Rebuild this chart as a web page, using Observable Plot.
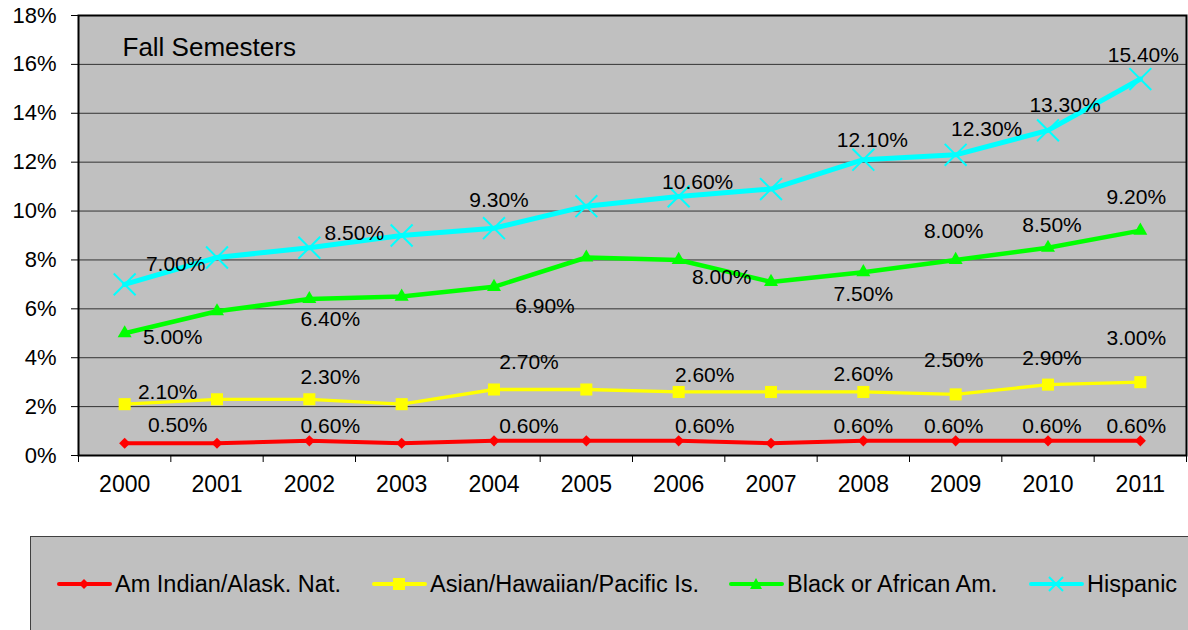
<!DOCTYPE html>
<html>
<head>
<meta charset="utf-8">
<script src="https://cdn.jsdelivr.net/npm/d3@7"></script>
<script src="https://cdn.jsdelivr.net/npm/@observablehq/plot@0.6"></script>
<style>
  html, body { margin: 0; padding: 0; background: #fff; }
  #wrap { position: relative; width: 1188px; height: 630px; overflow: hidden; font-family: "Liberation Sans", Arial, sans-serif; }
  #legend { position: absolute; left: 30px; top: 536px; width: 1200px; height: 110px; background: #c0c0c0; border: 1.5px solid #404040; box-sizing: border-box; }
  .item { position: absolute; top: 35px; height: 24px; display: flex; align-items: center; font-size: 23.5px; color: #000; white-space: nowrap; }
  .item svg { display: block; margin-right: 3px; }
</style>
</head>
<body>
<div id="wrap"><div id="chart"></div><div id="legend"></div></div>
<script>
// ---- data ----
const years = [2000, 2001, 2002, 2003, 2004, 2005, 2006, 2007, 2008, 2009, 2010, 2011];
const amIndian = [0.5, 0.5, 0.6, 0.5, 0.6, 0.6, 0.6, 0.5, 0.6, 0.6, 0.6, 0.6];
const asian    = [2.1, 2.3, 2.3, 2.1, 2.7, 2.7, 2.6, 2.6, 2.6, 2.5, 2.9, 3.0];
const black    = [5.0, 5.9, 6.4, 6.5, 6.9, 8.1, 8.0, 7.1, 7.5, 8.0, 8.5, 9.2];
const hispanic = [7.0, 8.1, 8.5, 9.0, 9.3, 10.2, 10.6, 10.9, 12.1, 12.3, 13.3, 15.4];
const seriesNames = ["Am Indian/Alask. Nat.", "Asian/Hawaiian/Pacific Is.", "Black or African Am.", "Hispanic"];
const labelYears = [2000, 2002, 2004, 2006, 2008, 2009, 2010, 2011];
const yTicks = [0, 2, 4, 6, 8, 10, 12, 14, 16, 18];
const title = "Fall Semesters";

// ---- styles / layout (not data) ----
const styles = [
  {color: "#ff0000", symbol: "diamond2", r: 5, width: 4, fill: true},
  {color: "#ffff00", symbol: "square", r: 6.8, width: 3.3, fill: true},
  {color: "#00ff00", symbol: "triangle", r: 5.2, width: 4.5, fill: true},
  {color: "#00ffff", symbol: "times", r: 10, width: 5, fill: false}
];
// label nudges [dx, dy] in px, per series, per labelYears entry
const labelNudge = [
  [[53,-18],[21,-15],[35,-15],[26,-15],[0,-15],[-2,-15],[4,-15],[-4,-15]],
  [[43,-12],[21,-22],[35,-27],[26,-17],[0,-18],[-2,-34],[4,-26],[-4,-44]],
  [[48,4],[21,20],[51,19],[43,17],[0,22],[-2,-29],[4,-22],[-4,-33]],
  [[51,-20],[45,-14],[5,-28],[19,-14],[9,-19],[31,-26],[17,-25],[3,-24]]
];

const values = [amIndian, asian, black, hispanic];
const rows = seriesNames.map((name, si) => years.map((yr, i) => ({series: name, year: yr, value: values[si][i]})));
const boundaries = years.map(y => y - 0.5).concat([years[years.length - 1] + 0.5]);

const marks = [
  Plot.frame({fill: "#c0c0c0", stroke: null}),
  Plot.gridY({ticks: yTicks, stroke: "#333", strokeOpacity: 1, strokeWidth: 1})
];
rows.forEach((data, si) => {
  const s = styles[si];
  marks.push(Plot.line(data, {x: "year", y: "value", stroke: s.color, strokeWidth: s.width, strokeLinejoin: "round"}));
});
rows.forEach((data, si) => {
  const s = styles[si];
  marks.push(Plot.dot(data, {x: "year", y: "value", symbol: () => s.symbol, r: s.r,
    fill: s.fill ? s.color : "none", stroke: s.fill ? "none" : s.color, strokeWidth: s.fill ? 0 : 2}));
});
rows.forEach((data, si) => {
  labelYears.forEach((ly, li) => {
    const d = data.filter(r => r.year === ly);
    const [dx, dy] = labelNudge[si][li];
    marks.push(Plot.text(d, {x: "year", y: "value", text: r => r.value.toFixed(2) + "%", dx, dy,
      fontSize: 21, fill: "#000", textAnchor: "middle", lineAnchor: "middle"}));
  });
});
marks.push(
  Plot.text([title], {frameAnchor: "top-left", dx: 44, dy: 22, textAnchor: "start", lineAnchor: "top", fontSize: 26, fill: "#000"}),
  Plot.frame({stroke: "#000", strokeWidth: 2}),
  Plot.axisY({ticks: yTicks, tickFormat: d => d + "%", tickSize: 7, tickPadding: 15, fontSize: 22, stroke: "#000", label: null}),
  Plot.axisX({ticks: boundaries, tickFormat: () => "", tickSize: 7, stroke: "#000", label: null}),
  Plot.axisX({ticks: years, tickFormat: d => String(d), tickSize: 0, tickPadding: 20, fontSize: 23, label: null})
);

const chart = Plot.plot({
  width: 1188,
  height: 530,
  marginLeft: 78,
  marginTop: 15,
  marginRight: 2,
  marginBottom: 75,
  style: {fontFamily: "'Liberation Sans', Arial, sans-serif", color: "#000", background: "#fff"},
  x: {type: "linear", domain: [boundaries[0], boundaries[boundaries.length - 1]], label: null},
  y: {domain: [0, 18], label: null},
  marks
});
document.getElementById("chart").appendChild(chart);

// ---- legend ----
const legend = document.getElementById("legend");
const legendLeft = [26, 341, 698, 998];
seriesNames.forEach((name, si) => {
  const s = styles[si];
  const item = document.createElement("div");
  item.className = "item";
  item.style.left = legendLeft[si] + "px";
  let marker = "";
  if (s.symbol === "diamond2") marker = `<path d="M27,5 L32,10 L27,15 L22,10Z" fill="${s.color}"/>`;
  else if (s.symbol === "square") marker = `<rect x="21" y="4" width="12" height="12" fill="${s.color}"/>`;
  else if (s.symbol === "triangle") marker = `<path d="M27,4 L33,15 L21,15Z" fill="${s.color}"/>`;
  else marker = `<path d="M20,3 L34,17 M34,3 L20,17" stroke="${s.color}" stroke-width="2"/>`;
  item.innerHTML = `<svg width="55" height="20"><line x1="2" y1="10" x2="53" y2="10" stroke="${s.color}" stroke-width="4" stroke-linecap="round"/>${marker}</svg><span>${name}</span>`;
  legend.appendChild(item);
});
</script>
</body>
</html>
